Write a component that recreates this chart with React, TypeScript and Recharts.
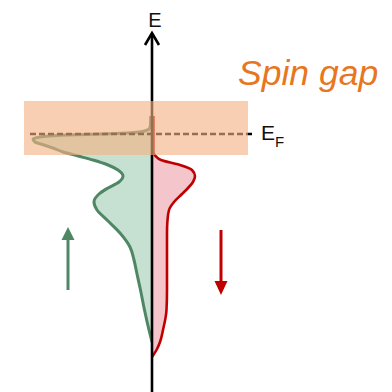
import React from 'react';
import { ComposedChart, Area, XAxis, YAxis, ReferenceLine, ReferenceArea } from 'recharts';

// Energy (arbitrary units, E_F = 0), top to bottom
const energies = [
  1.8, 1.0, 0.6, 0.35, 0.2, 0.08, 0.0, -0.1, -0.25, -0.5, -0.8, -1.1, -1.4, -1.8,
  -2.2, -2.6, -3.1, -3.6, -4.2, -4.8, -5.4, -6.0, -6.8, -7.6, -8.6, -9.9, -11.3,
  -12.6, -14.0, -15.6, -17.6, -19.6, -20.8, -21.6, -22.3,
];
// Spin-up density of states (drawn to the left, negative)
const spinUpDos: (number | null)[] = [
  -0.13, -0.15, -0.22, -0.6, -1.3, -3.0, -5.2, -8.5, -10.8, -11.9, -11.7, -10.8, -9.9, -8.9,
  -7.4, -5.9, -4.4, -3.4, -2.9, -3.3, -4.4, -5.3, -5.8, -5.5, -4.5, -3.2, -2.2,
  -1.8, -1.5, -1.15, -0.75, -0.3, 0, null, null,
];
// Spin-down density of states (drawn to the right, positive)
const spinDownDos: (number | null)[] = [
  0.15, 0.15, 0.15, 0.15, 0.15, 0.15, 0.15, 0.15, 0.15, 0.15, 0.15, 0.15, 0.15, 0.15,
  0.35, 0.9, 2.8, 4.0, 4.3, 4.1, 3.6, 3.0, 2.2, 1.7, 1.55, 1.5, 1.5,
  1.5, 1.5, 1.5, 1.45, 1.1, 0.8, 0.45, 0,
];

const fermiLevel = 0;
const gapTop = 3.3;
const gapBottom = -2.1;
const gapLeft = -12.8;
const gapRight = 9.6;
const energyDomain = [-25.8, 13.4];
const dosDomain = [-15.2, 24.0];
const energyAxisTop = 10.1;
const fermiLineStart = -12.2;
const fermiLineEnd = 10.0;
const upArrow = { x: -8.4, from: -15.6, to: -9.3 };
const downArrow = { x: 6.9, from: -9.6, to: -16.1 };

const data = energies.map((e, i) => ({ e, up: spinUpDos[i], down: spinDownDos[i] }));

const FONT = '"Liberation Sans", Arial, sans-serif';

const makeArrow = (color: string, width: number, head: number, headW: number, label?: string) =>
  (props: any) => {
    const x1 = Number(props.x1), y1 = Number(props.y1), x2 = Number(props.x2), y2 = Number(props.y2);
    const dx = x2 - x1, dy = y2 - y1;
    const len = Math.hypot(dx, dy) || 1;
    const ux = dx / len, uy = dy / len;
    const px = -uy, py = ux;
    const bx = x2 - ux * head, by = y2 - uy * head;
    const hw = headW / 2;
    if (label) {
      return (
        <g>
          <line x1={x1} y1={y1} x2={x2} y2={y2} stroke={color} strokeWidth={width} />
          <polyline
            points={`${bx + px * hw},${by + py * hw} ${x2},${y2} ${bx - px * hw},${by - py * hw}`}
            fill="none"
            stroke={color}
            strokeWidth={width}
            strokeLinejoin="miter"
          />
          <text x={x2 + 3} y={y2 - 6} textAnchor="middle" fontFamily={FONT} fontSize={20} fill="#111">
            {label}
          </text>
        </g>
      );
    }
    return (
      <g>
        <line x1={x1} y1={y1} x2={bx} y2={by} stroke={color} strokeWidth={width} />
        <polygon
          points={`${bx + px * hw},${by + py * hw} ${x2},${y2} ${bx - px * hw},${by - py * hw}`}
          fill={color}
        />
      </g>
    );
  };

const fermiShape = (props: any) => {
  const x1 = Number(props.x1), y1 = Number(props.y1), x2 = Number(props.x2), y2 = Number(props.y2);
  return (
    <g>
      <line x1={x1} y1={y1} x2={x2} y2={y2} stroke="#000" strokeWidth={2.3} strokeDasharray="6 3" />
      <text x={x2 + 9} y={y2 + 6} fontFamily={FONT} fontSize={21} fill="#111">
        E<tspan fontSize={15} dy={7}>F</tspan>
      </text>
    </g>
  );
};

const gapLabel = (props: any) => {
  const vb = props.viewBox || {};
  const x = Number(vb.x) + Number(vb.width);
  const y = Number(vb.y);
  return (
    <text x={x - 10} y={y - 16} fontFamily={FONT} fontStyle="italic" fontSize={35.5} fill="#E8761E">
      Spin gap
    </text>
  );
};

export default function App() {
  return (
    <div style={{ position: 'absolute', left: 0, top: 0, width: 392, height: 392, background: '#fff' }}>
      <ComposedChart
        width={392}
        height={392}
        data={data}
        layout="vertical"
        margin={{ top: 0, right: 0, bottom: 0, left: 0 }}
      >
        <XAxis type="number" domain={dosDomain} hide allowDataOverflow />
        <YAxis type="number" dataKey="e" domain={energyDomain} hide allowDataOverflow reversed />
        <Area
          type="monotone"
          dataKey="up"
          stroke="#4F8764"
          strokeWidth={3}
          fill="#C6E1D2"
          fillOpacity={1}
          isAnimationActive={false}
          dot={false}
          activeDot={false}
        />
        <Area
          type="monotone"
          dataKey="down"
          stroke="#C00000"
          strokeWidth={2.6}
          fill="#F4C6CB"
          fillOpacity={1}
          isAnimationActive={false}
          dot={false}
          activeDot={false}
        />
        <ReferenceLine
          segment={[{ x: 0, y: energyDomain[0] }, { x: 0, y: energyAxisTop }]}
          shape={makeArrow('#000', 2.6, 12, 14, 'E')}
          ifOverflow="visible"
          zIndex={700}
        />
        <ReferenceLine
          segment={[{ x: fermiLineStart, y: fermiLevel }, { x: fermiLineEnd, y: fermiLevel }]}
          shape={fermiShape}
          ifOverflow="visible"
          zIndex={700}
        />
        <ReferenceLine
          segment={[{ x: upArrow.x, y: upArrow.from }, { x: upArrow.x, y: upArrow.to }]}
          shape={makeArrow('#4F8764', 3, 13, 13)}
          ifOverflow="visible"
          zIndex={700}
        />
        <ReferenceLine
          segment={[{ x: downArrow.x, y: downArrow.from }, { x: downArrow.x, y: downArrow.to }]}
          shape={makeArrow('#C00000', 3, 14, 13)}
          ifOverflow="visible"
          zIndex={700}
        />
        <ReferenceArea
          x1={gapLeft}
          x2={gapRight}
          y1={gapBottom}
          y2={gapTop}
          fill="#F4B183"
          fillOpacity={0.62}
          stroke="none"
          ifOverflow="visible"
          zIndex={1500}
          label={gapLabel}
        />
      </ComposedChart>
    </div>
  );
}
